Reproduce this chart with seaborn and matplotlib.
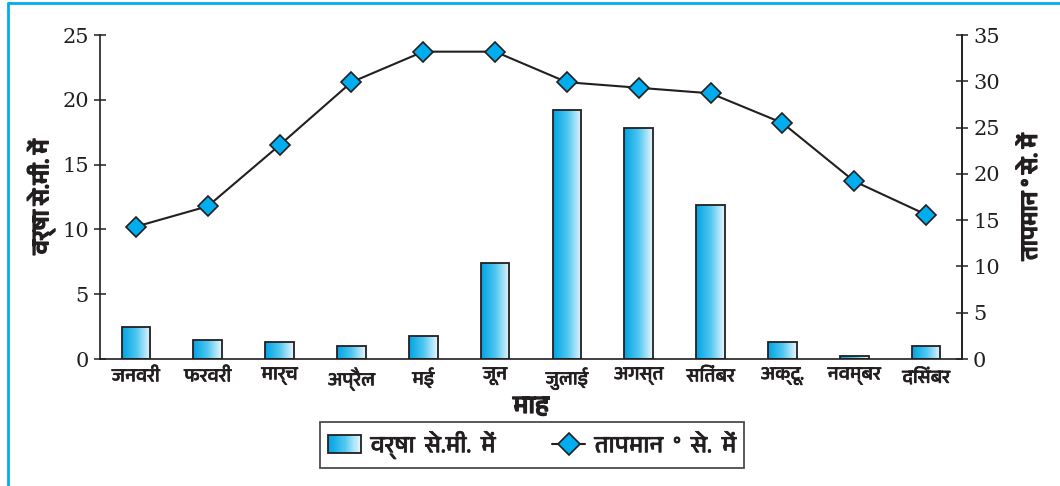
import numpy as np
import matplotlib
matplotlib.use("Agg")
import matplotlib.pyplot as plt
import matplotlib.patheffects as pe
import seaborn as sns
from matplotlib import font_manager
from matplotlib.ft2font import FT2Font
from matplotlib.patches import Rectangle
from matplotlib.lines import Line2D
from matplotlib.colors import LinearSegmentedColormap
from matplotlib.legend_handler import HandlerBase

# monthly rainfall (cm) and temperature (deg C)
months = ["जनवरी", "फरवरी", "मार्च", "अप्रैल", "मई", "जून",
          "जुलाई", "अगस्त", "सितंबर", "अक्टू.", "नवम्बर", "दिसंबर"]
rainfall = [2.5, 1.5, 1.3, 1.0, 1.8, 7.4, 19.2, 17.8, 11.9, 1.3, 0.2, 1.0]
temperature = [14.3, 16.5, 23.1, 29.9, 33.2, 33.2, 29.9, 29.3, 28.7, 25.5, 19.2, 15.6]
rain_ticks = [0, 5, 10, 15, 20, 25]
temp_ticks = [0, 5, 10, 15, 20, 25, 30, 35]

rain_label = "वर्षा से.मी. में"
temp_label = "तापमान ° से. में"
month_label = "माह"

INK = "#231f20"
CYAN = "#00aeef"
bar_cmap = LinearSegmentedColormap.from_list("bar", ["#00a4e4", "#4fc6f0", "#eaf7fd"])

bold = [pe.withStroke(linewidth=1.1, foreground=INK)]
semi = [pe.withStroke(linewidth=0.5, foreground=INK)]


def find_devanagari_font():
    """Return the name of an installed font that has Devanagari glyphs."""
    fonts = sorted(font_manager.fontManager.ttflist,
                   key=lambda f: 0 if "devanagari" in f.name.lower() else 1)
    for f in fonts:
        try:
            if 0x092E in FT2Font(f.fname).get_charmap():
                return f.name
        except Exception:
            continue
    return None


class GradientHandler(HandlerBase):
    """Legend key drawn as a small gradient box like the bars."""
    def create_artists(self, legend, orig_handle, xdescent, ydescent,
                       width, height, fontsize, trans):
        n = 30
        arts = []
        for i in range(n):
            arts.append(Rectangle((-xdescent + width * i / n, -ydescent), width / n + 0.3, height,
                                  facecolor=bar_cmap(i / (n - 1)), edgecolor="none",
                                  transform=trans))
        arts.append(Rectangle((-xdescent, -ydescent), width, height, facecolor="none",
                              edgecolor=INK, lw=1.3, transform=trans))
        return arts


sns.set_theme(style="white")
deva = find_devanagari_font()
families = [deva, "DejaVu Sans"] if deva else ["DejaVu Sans"]
plt.rcParams["font.family"] = families
plt.rcParams["text.color"] = INK

fig = plt.figure(figsize=(10.6, 4.86), dpi=100)
ax = fig.add_axes([100 / 1060, 1 - 359 / 486, 862 / 1060, 324 / 486])

sns.barplot(x=months, y=rainfall, ax=ax, width=0.4, edgecolor=INK,
            linewidth=1.3, facecolor="white", zorder=2)

# gradient fill clipped to each bar, dark on the left
grad = np.linspace(0, 1, 256).reshape(1, -1)
for bar in list(ax.patches):
    x0, y0 = bar.get_x(), bar.get_y()
    w, h = bar.get_width(), bar.get_height()
    im = ax.imshow(grad, cmap=bar_cmap, extent=[x0, x0 + w, y0, y0 + h],
                   aspect="auto", zorder=1.9, interpolation="bilinear")
    im.set_clip_path(bar)
    bar.set_facecolor("none")

ax.set_xlim(-0.5, len(months) - 0.5)
ax.set_ylim(0, 25)
ax.set_yticks(rain_ticks)
ax.set_xticks(range(len(months)))
ax.set_xticklabels(months, fontsize=13.5, color=INK)
for t in ax.get_xticklabels():
    t.set_path_effects(semi)
ax.set_xticks(np.arange(-0.5, len(months)), minor=True)
ax.tick_params(axis="x", which="major", length=0, pad=6)
ax.tick_params(axis="x", which="minor", direction="inout", length=8, width=1.1, color=INK)
ax.tick_params(axis="y", direction="inout", length=8, width=1.1, color=INK, left=True, pad=4)
for t in ax.get_yticklabels():
    t.set_fontfamily("DejaVu Serif")
    t.set_fontsize(15)
    t.set_color(INK)

ax2 = ax.twinx()
sns.lineplot(x=np.arange(len(months)), y=temperature, ax=ax2, color=INK, lw=1.5,
             marker="D", markersize=10, markerfacecolor=CYAN, markeredgecolor=INK,
             markeredgewidth=1.2, sort=False, zorder=5)
ax2.set_ylim(0, 35)
ax2.set_yticks(temp_ticks)
ax2.tick_params(axis="y", direction="inout", length=8, width=1.1, color=INK, right=True, pad=4)
for t in ax2.get_yticklabels():
    t.set_fontfamily("DejaVu Serif")
    t.set_fontsize(15)
    t.set_color(INK)

for a in (ax, ax2):
    a.grid(False)
    a.spines["top"].set_visible(False)
    for s in ("left", "bottom", "right"):
        a.spines[s].set_color(INK)
        a.spines[s].set_linewidth(1.2)
ax2.spines["left"].set_visible(False)
ax2.spines["bottom"].set_visible(False)

ax.set_ylabel(rain_label, fontsize=17, labelpad=5, color=INK, path_effects=bold)
ax2.set_ylabel(temp_label, fontsize=17, labelpad=14, color=INK, path_effects=bold)
ax.set_xlabel(month_label, fontsize=18, labelpad=4, color=INK, path_effects=bold)

bar_handle = Rectangle((0, 0), 1, 1)
line_handle = Line2D([], [], color=INK, lw=1.5, marker="D", markersize=11,
                     markerfacecolor=CYAN, markeredgecolor=INK, markeredgewidth=1.2)
leg = fig.legend([bar_handle, line_handle],
                 [rain_label.replace(" ", "  "), temp_label.replace(" ", "  ")],
                 handler_map={bar_handle: GradientHandler()},
                 loc="center", bbox_to_anchor=(532 / 1060, 1 - 445 / 486), ncol=2,
                 frameon=True, fancybox=False, fontsize=17, handlelength=1.4,
                 handleheight=0.8, handletextpad=0.4, columnspacing=2.4, borderpad=0.35)
leg.get_frame().set_edgecolor(INK)
leg.get_frame().set_linewidth(1.3)
for t in leg.get_texts():
    t.set_path_effects(semi)

# page border
fig.add_artist(Line2D([8 / 1060, 8 / 1060], [0, 1 - 3 / 486], color=CYAN, lw=2, transform=fig.transFigure))
fig.add_artist(Line2D([8 / 1060, 1], [1 - 3 / 486, 1 - 3 / 486], color=CYAN, lw=2, transform=fig.transFigure))

fig.savefig("out.png", dpi=100)
